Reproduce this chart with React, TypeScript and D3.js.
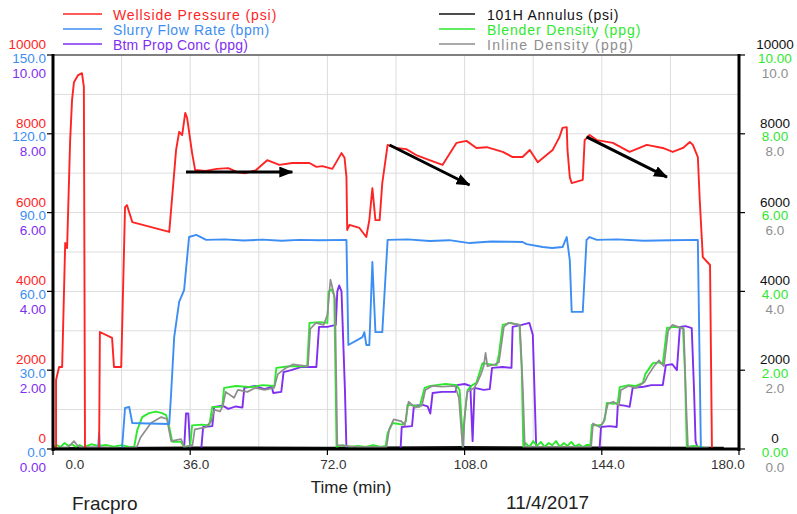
import React from 'react';
import * as d3 from 'd3';

// Fracpro treatment plot: wellside pressure, rate, proppant concentrations vs time.
// All series share one pixel range; each has its own value domain.

const TIME_TICKS = [0, 36, 72, 108, 144, 180];
const TIME_GRID = [18, 36, 54, 72, 90, 108, 126, 144, 162];
const PSI_TICKS = [0, 2000, 4000, 6000, 8000, 10000];
const PSI_GRID = [1000, 2000, 3000, 4000, 5000, 6000, 7000, 8000, 9000];
const RATE_TICKS = [0, 30, 60, 90, 120, 150];
const CONC_TICKS = [0, 2, 4, 6, 8, 10];

const LEGEND_LEFT = ['Wellside Pressure (psi)', 'Slurry Flow Rate (bpm)', 'Btm Prop Conc (ppg)'];
const LEGEND_RIGHT = ['101H Annulus (psi)', 'Blender Density (ppg)', 'Inline Density (ppg)'];

// [time min, psi]
const WELLSIDE_PSI: [number, number][] = [
  [0, 0], [0.8, 0], [0.8, 1750], [1.6, 2080], [2.4, 2080], [3.2, 5230], [3.7, 5100], [4.5, 7840],
  [5.0, 8860], [5.5, 9310], [6.6, 9490], [7.6, 9540], [8.1, 9190], [8.4, 0], [12.1, 0], [12.3, 2970],
  [15.5, 2820], [16.0, 2080], [17.9, 2080], [18.9, 6140], [19.4, 6190], [20.8, 5760], [30.5, 5510],
  [32.3, 7590], [33.1, 8050], [33.9, 7970], [34.7, 8530], [35.2, 8400], [36.5, 7510], [37.3, 7080],
  [40.0, 7060], [43.0, 7110], [46.0, 7130], [48.5, 7020], [50.5, 7000], [53.3, 7080], [56.2, 7330],
  [59.4, 7210], [62.8, 7260], [67.3, 7260], [69.1, 7160], [70.7, 7180], [73.3, 7110], [75.7, 7510],
  [76.5, 7390], [77.0, 6900], [77.2, 5560], [77.8, 5690], [80.4, 5610], [82.2, 5380], [83.0, 5810],
  [83.8, 6620], [84.6, 5810], [85.7, 5810], [86.4, 6750], [87.8, 7720], [90.1, 7640], [92.7, 7610],
  [95.5, 7450], [98.8, 7330], [102.2, 7210], [105.9, 7770], [108.5, 7820], [111.1, 7640], [113.8, 7660],
  [118.0, 7540], [120.6, 7410], [123.2, 7410], [125.1, 7590], [127.2, 7280], [129.5, 7460], [131.1, 7590],
  [132.2, 7790], [132.9, 7920], [133.7, 8150], [134.8, 8170], [135.0, 7590], [135.6, 6900], [136.1, 6750],
  [139.0, 6830], [139.5, 7840], [140.8, 7970], [142.7, 7840], [146.9, 7770], [151.3, 7540], [155.8, 7720],
  [160.0, 7640], [162.6, 7540], [165.3, 7640], [167.1, 7790], [167.9, 7720], [169.2, 7410], [169.7, 6320],
  [170.5, 4870], [172.4, 4670], [172.9, 0],
];

// [time min, bpm]
const SLURRY_RATE: [number, number][] = [
  [0, 0], [11.8, 0], [12.1, 6], [12.3, 0], [18.1, 0], [18.9, 15.6], [20.0, 16], [20.8, 9.9], [25, 9.7],
  [30.5, 9.5], [31.0, 21.3], [31.8, 42.6], [33.1, 56], [34.4, 60.5], [35.7, 80.7], [37.6, 81.5],
  [40.2, 79.6], [45, 79.8], [50, 79.4], [55, 79.7], [60, 79.3], [64.6, 79.6], [70, 79.5], [77.0, 79.6],
  [77.5, 39.6], [81.2, 42.6], [81.7, 44.5], [82.2, 39.6], [83.0, 39.6], [83.8, 71.2], [84.6, 44.5],
  [86.4, 44.5], [87.8, 79.6], [93, 79.8], [98.8, 79.2], [104, 79.5], [109.3, 78.4], [115, 79.0],
  [120, 78.9], [123.2, 78.8], [124.3, 78.0], [128.5, 76.9], [131, 76.5], [133.7, 76.9], [134.8, 80.7],
  [135.6, 71.9], [136.1, 52.2], [139.0, 52.2], [140.0, 79.6], [140.8, 80.7], [142.7, 79.6], [148, 79.8],
  [155, 79.3], [162, 79.5], [169.2, 79.6], [170.0, 0], [180, 0],
];

// [time min, ppg]
const BTM_PROP_CONC: [number, number][] = [
  [0, 0], [34.4, 0], [34.9, 0.9], [35.5, 0.9], [36.0, 0], [38.9, 0], [39.4, 0.56], [41.8, 0.58],
  [42.3, 1.07], [44.5, 1.1], [46.0, 1.02], [48.0, 1.08], [49.7, 1.05], [50.2, 1.55], [53.0, 1.6],
  [55.5, 1.52], [57.4, 1.58], [57.8, 1.42], [59.9, 1.45], [60.5, 1.95], [62.5, 2.0], [65.0, 2.08],
  [69.1, 2.08], [69.8, 3.1], [72.0, 3.1], [74.2, 3.15], [74.6, 4.0], [75.1, 4.15], [75.7, 4.0],
  [76.6, 1.5], [77.0, 0], [91.2, 0], [91.5, 0.56], [94.2, 0.58], [94.7, 1.1], [97.0, 1.12], [98.3, 1.08],
  [99.0, 0.9], [99.6, 1.42], [102.0, 1.45], [105.6, 1.45], [106.0, 1.62], [108.0, 1.65], [109.5, 1.6],
  [110.1, 0.2], [110.6, 1.55], [113.0, 1.5], [114.6, 1.52], [115.2, 2.06], [118.0, 2.08], [120.3, 2.06],
  [120.6, 3.1], [123.0, 3.15], [125.0, 3.2], [125.9, 2.9], [126.8, 0], [143.4, 0], [143.8, 0.56],
  [146.0, 0.58], [147.9, 0.56], [148.2, 1.12], [150.0, 1.1], [151.3, 1.07], [152.1, 1.55], [155.0, 1.58],
  [157.0, 1.62], [160.0, 1.62], [160.8, 2.13], [162.5, 2.15], [163.7, 2.0], [164.5, 3.1], [166.0, 3.12],
  [167.6, 3.07], [168.2, 1.5], [168.6, 0.2], [169.2, 0], [180, 0],
];

// [time min, psi]
const ANNULUS_PSI: [number, number][] = [
  [0, 20], [36, 40], [72, 30], [108, 50], [144, 40], [176, 30],
];

// [time min, ppg]
const BLENDER_DENSITY: [number, number][] = [
  [0, 0.05], [1, 0.1], [2, 0.05], [3, 0.15], [4, 0.08], [5, 0.12], [6, 0.05], [7, 0.1], [8, 0.05],
  [10, 0.12], [12, 0.08], [14, 0.1], [16, 0.06], [18, 0.1], [20, 0.05], [21.3, 0.05], [22.1, 0.48],
  [23.4, 0.81], [25.2, 0.91], [27.0, 0.95], [28.6, 0.91], [29.7, 0.86], [30.5, 0.56], [31.3, 0.18],
  [33.6, 0.18], [34.4, 0.05], [36.0, 0.08], [36.5, 0.6], [39.0, 0.62], [41.0, 0.6], [41.8, 1.07],
  [44.4, 1.07], [44.9, 1.55], [48.0, 1.6], [52.0, 1.57], [55.0, 1.62], [58.1, 1.6], [58.6, 2.06],
  [62.0, 2.1], [66.7, 2.1], [67.3, 3.2], [70.0, 3.22], [72.0, 3.2], [72.3, 4.0], [73.0, 4.05],
  [73.8, 3.9], [74.4, 0.05], [76, 0.1], [78, 0.05], [80, 0.08], [82, 0.05], [84, 0.1], [86, 0.05],
  [87.3, 0.08], [87.8, 0.4], [89.1, 0.66], [91.7, 0.62], [92.6, 0.7], [93.0, 1.12], [95.0, 1.1],
  [96.2, 1.07], [97.5, 1.55], [99.0, 1.6], [100.6, 1.62], [103.0, 1.65], [105.9, 1.62], [106.7, 1.5],
  [107.3, 0.6], [107.5, 0.05], [107.8, 0.6], [108.4, 1.2], [108.8, 1.5], [110.0, 1.62], [111.1, 1.68],
  [112.7, 2.18], [114.5, 2.15], [116.4, 2.13], [117.0, 2.4], [118.0, 3.15], [120.0, 3.2], [122.4, 3.15],
  [123.0, 2.0], [123.4, 0.05], [124, 0.15], [125, 0.05], [126, 0.2], [127, 0.08], [128, 0.18],
  [129, 0.05], [130, 0.15], [131, 0.1], [132, 0.2], [133, 0.05], [134, 0.15], [135, 0.08], [136, 0.18],
  [137, 0.06], [138, 0.12], [139, 0.05], [140, 0.1], [141.0, 0.1], [141.4, 0.61], [143.0, 0.6],
  [144.0, 0.62], [144.8, 0.75], [145.3, 1.17], [147.0, 1.15], [148.2, 1.17], [148.7, 1.57], [151.0, 1.62],
  [153.0, 1.6], [154.8, 1.68], [155.4, 1.9], [157.4, 2.18], [159.0, 2.2], [160.0, 2.15], [161.1, 3.07],
  [163.0, 3.1], [165.3, 3.07], [165.8, 2.0], [166.3, 0.05], [168, 0.08], [170, 0.05], [172, 0],
];

// [time min, ppg]
const INLINE_DENSITY: [number, number][] = [
  [0, 0.02], [4, 0.05], [5.5, 0.2], [6.3, 0.1], [7, 0.05], [12, 0.05], [18, 0.02], [22, 0.05],
  [23.0, 0.3], [25.7, 0.66], [28.4, 0.81], [29.9, 0.76], [31.0, 0.2], [33.6, 0.25], [34.5, 0.05],
  [36.6, 0.1], [37.2, 0.5], [40.0, 0.55], [41.5, 0.7], [42.3, 1.0], [43.8, 0.95], [44.6, 1.1],
  [45.3, 1.45], [47.5, 1.3], [48.5, 1.5], [51.0, 1.45], [53.0, 1.55], [55.5, 1.5], [58.0, 1.55],
  [59.0, 1.9], [61.0, 2.05], [63.0, 2.15], [66.9, 2.1], [67.5, 3.05], [69.0, 3.2], [71.0, 3.15],
  [72.0, 3.4], [72.8, 4.3], [73.3, 4.1], [74.0, 3.8], [74.6, 0.1], [80, 0.05], [87.5, 0.05],
  [88.2, 0.5], [89.4, 0.75], [91.5, 0.7], [92.3, 0.6], [93.3, 1.2], [95.0, 1.05], [96.8, 1.1],
  [97.7, 1.5], [99.5, 1.6], [102, 1.58], [105.5, 1.6], [106.5, 1.3], [107.2, 0.4], [107.6, 0.0],
  [108.0, 0.8], [108.7, 1.45], [110.5, 1.55], [111.4, 1.7], [112.3, 1.9], [113.0, 2.1], [113.5, 2.44],
  [114.0, 2.1], [116.0, 2.15], [117.0, 2.2], [118.3, 3.1], [119.5, 3.2], [122.5, 3.15], [123.3, 1.5],
  [123.8, 0.05], [130, 0.05], [141.2, 0.05], [141.7, 0.65], [143.5, 0.55], [144.5, 0.7], [145.6, 1.15],
  [147, 1.2], [148.5, 1.1], [149.0, 1.5], [151, 1.6], [153, 1.55], [155.2, 1.7], [156.0, 1.85],
  [157.7, 2.1], [159, 2.25], [160.3, 2.1], [161.4, 3.0], [162.5, 3.15], [165.5, 3.05], [166.2, 1.0],
  [166.6, 0.05], [172, 0.02],
];

// Annotation arrows: [t0, psi0, t1, psi1]
const ARROWS: [number, number, number, number][] = [
  [34.9, 7030, 62.8, 7030],
  [88.3, 7716, 109.3, 6700],
  [140.0, 7920, 161.1, 6900],
];

const W = 797;
const H = 514;
const M = { left: 53, right: 739, top: 55, bottom: 449 };

const RED = '#ff2424';
const BLUE = '#3d8ef2';
const PURPLE = '#7f2ff0';
const GREEN = '#2ee82e';
const GRAY = '#8e8e8e';
const BLACK = '#111';
const FONT = '"Liberation Sans", Arial, sans-serif';

export default function App() {
  const x = d3.scaleLinear().domain([0, 180]).range([M.left, M.right]);
  const yPsi = d3.scaleLinear().domain([0, 10000]).range([M.bottom, M.top]);
  const yRate = d3.scaleLinear().domain([0, 150]).range([M.bottom, M.top]);
  const yConc = d3.scaleLinear().domain([0, 10]).range([M.bottom, M.top]);

  const mk = (ys: d3.ScaleLinear<number, number>) =>
    d3.line<[number, number]>().x((d) => x(d[0])).y((d) => ys(d[1]));

  const series = [
    { data: ANNULUS_PSI, line: mk(yPsi), color: BLACK, w: 2 },
    { data: BTM_PROP_CONC, line: mk(yConc), color: PURPLE, w: 1.9 },
    { data: BLENDER_DENSITY, line: mk(yConc), color: GREEN, w: 1.9 },
    { data: INLINE_DENSITY, line: mk(yConc), color: GRAY, w: 1.7 },
    { data: SLURRY_RATE, line: mk(yRate), color: BLUE, w: 1.9 },
    { data: WELLSIDE_PSI, line: mk(yPsi), color: RED, w: 1.9 },
  ];

  const leftColors = [RED, BLUE, PURPLE];
  const rightColors = [BLACK, GREEN, GRAY];

  const timeLabelX = (t: number, i: number) =>
    i === 0 ? x(t) + 22 : i === TIME_TICKS.length - 1 ? x(t) - 11 : x(t) + 6;

  return (
    <svg
      width={W}
      height={H}
      viewBox={`0 0 ${W} ${H}`}
      style={{ position: 'absolute', left: 0, top: 0, background: '#fff', fontFamily: FONT }}
    >
      <defs>
        <marker
          id="arrowhead"
          markerUnits="userSpaceOnUse"
          markerWidth={14}
          markerHeight={11}
          refX={13}
          refY={5.5}
          orient="auto"
        >
          <path d="M0,0 L14,5.5 L0,11 Z" fill="#000" />
        </marker>
      </defs>

      {/* Legend */}
      {LEGEND_LEFT.map((name, i) => (
        <g key={`ll-${name}`}>
          <line x1={63} x2={102} y1={14 + i * 15} y2={14 + i * 15} stroke={leftColors[i]} strokeWidth={1.5} />
          <text x={113} y={20 + i * 15} fontSize={14} textLength={name.length * 7.1} fill={leftColors[i]}>
            {name}
          </text>
        </g>
      ))}
      {LEGEND_RIGHT.map((name, i) => (
        <g key={`lr-${name}`}>
          <line x1={439} x2={475} y1={14 + i * 15} y2={14 + i * 15} stroke={rightColors[i]} strokeWidth={1.5} />
          <text x={487} y={20 + i * 15} fontSize={14} textLength={name.length * 7.3} fill={rightColors[i]}>
            {name}
          </text>
        </g>
      ))}

      {/* Grid */}
      {PSI_GRID.map((v) => (
        <line key={`hg-${v}`} x1={M.left} x2={M.right} y1={yPsi(v)} y2={yPsi(v)} stroke="#dcdcdc" strokeWidth={1} />
      ))}
      {TIME_GRID.map((t) => (
        <line key={`vg-${t}`} x1={x(t)} x2={x(t)} y1={M.top} y2={M.bottom} stroke="#dcdcdc" strokeWidth={1} />
      ))}
      <line x1={M.left} x2={M.right} y1={M.top} y2={M.top} stroke="#555" strokeWidth={1.5} />

      {/* Series */}
      {series.map((s, i) => (
        <path key={`s-${i}`} d={s.line(s.data) ?? ''} fill="none" stroke={s.color} strokeWidth={s.w} strokeLinejoin="round" />
      ))}

      {/* Arrows */}
      {ARROWS.map(([t0, p0, t1, p1], i) => (
        <line
          key={`ar-${i}`}
          x1={x(t0)}
          y1={yPsi(p0)}
          x2={x(t1)}
          y2={yPsi(p1)}
          stroke="#000"
          strokeWidth={3}
          markerEnd="url(#arrowhead)"
        />
      ))}

      {/* Axes */}
      <line x1={M.left} x2={M.left} y1={M.top - 1} y2={M.bottom + 2} stroke="#000" strokeWidth={3} />
      <line x1={M.right} x2={M.right} y1={M.top - 1} y2={M.bottom + 2} stroke="#000" strokeWidth={3} />
      <line x1={M.left} x2={M.right} y1={M.bottom} y2={M.bottom} stroke="#000" strokeWidth={3} />

      {PSI_TICKS.map((v, i) => (
        <g key={`yt-${v}`}>
          <line x1={M.left - 6} x2={M.left} y1={yPsi(v)} y2={yPsi(v)} stroke="#000" strokeWidth={1.2} />
          <line x1={M.right} x2={M.right + 6} y1={yPsi(v)} y2={yPsi(v)} stroke="#000" strokeWidth={1.2} />
          <g fontSize={13.5} textAnchor="end">
            <text x={46} y={yPsi(v) - 6} fill={RED}>{v}</text>
            <text x={46} y={yRate(RATE_TICKS[i]) + 7.5} fill={BLUE}>{RATE_TICKS[i].toFixed(1)}</text>
            <text x={46} y={yConc(CONC_TICKS[i]) + 22.5} fill={PURPLE}>{CONC_TICKS[i].toFixed(2)}</text>
          </g>
          <g fontSize={13.5} textAnchor="middle">
            <text x={775} y={yPsi(v) - 6} fill={BLACK}>{v}</text>
            <text x={775} y={yConc(CONC_TICKS[i]) + 7.5} fill={GREEN}>{CONC_TICKS[i].toFixed(2)}</text>
            <text x={775} y={yConc(CONC_TICKS[i]) + 22.5} fill={GRAY}>{CONC_TICKS[i].toFixed(1)}</text>
          </g>
        </g>
      ))}

      {TIME_TICKS.map((t, i) => (
        <g key={`xt-${t}`}>
          <line x1={x(t)} x2={x(t)} y1={M.bottom} y2={M.bottom + 6} stroke="#000" strokeWidth={1.2} />
          <text x={timeLabelX(t, i)} y={469} fontSize={13.5} textAnchor="middle" fill="#333">
            {t.toFixed(1)}
          </text>
        </g>
      ))}

      <text x={351} y={493} fontSize={17} textAnchor="middle" fill="#222">Time (min)</text>
      <text x={72} y={510} fontSize={19} fill="#222">Fracpro</text>
      <text x={506} y={509} fontSize={19} fill="#222">11/4/2017</text>
    </svg>
  );
}
